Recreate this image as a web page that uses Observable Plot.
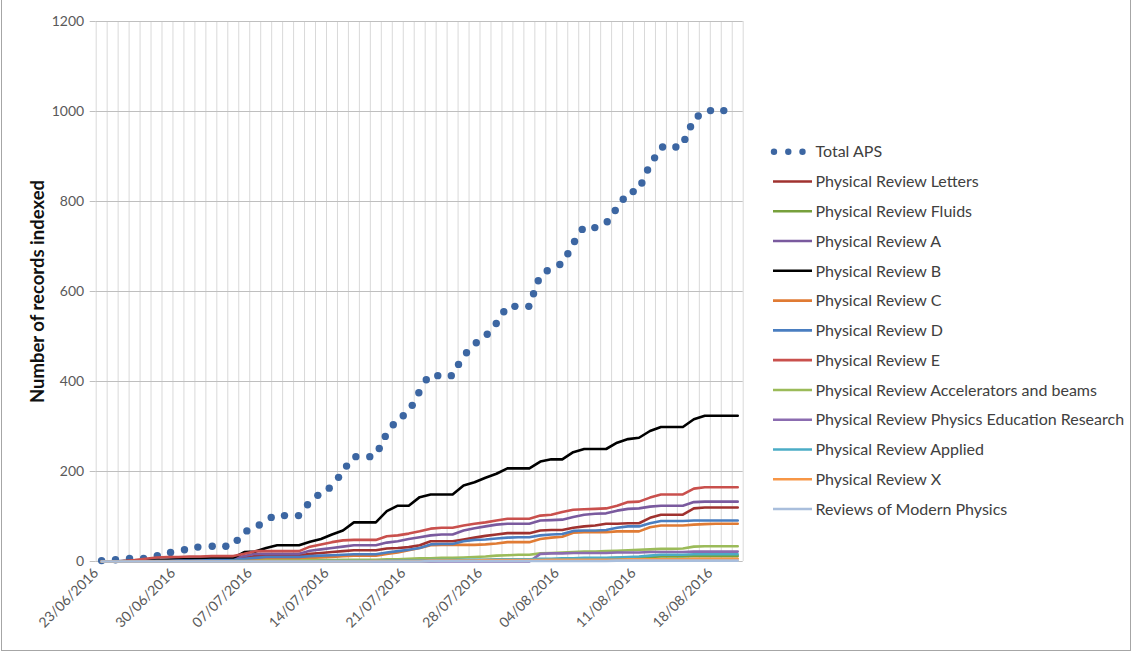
<!DOCTYPE html>
<html>
<head>
<meta charset="utf-8">
<script src="https://cdn.jsdelivr.net/npm/d3@7"></script>
<script src="https://cdn.jsdelivr.net/npm/@observablehq/plot@0.6"></script>
<style>
  body { margin: 0; background: #fff; font-family: Lato, "Open Sans", sans-serif; }
  #wrap { position: relative; width: 1134px; height: 655px; overflow: hidden; }
  #frame { position: absolute; left: 1px; top: -2px; width: 1130px; height: 653px; border: 1px solid #a6a6a6; box-sizing: border-box; pointer-events: none; }
  #legend { position: absolute; left: 0; top: 0; pointer-events: none; }
</style>
</head>
<body>
<div id="wrap">
  <div id="chart"></div>
  <svg id="legend" width="1134" height="655"></svg>
  <div id="frame"></div>
</div>
<script>
// ---------- DATA ----------
const startDay = "2016-06-23";   // first category date
const dayCount = 59;             // daily categories 23/06 .. 20/08
const endDay = "2016-08-21";     // axis end

// Total APS: position in days after 23/06/2016 00:00, and cumulative count
const totalDayOffset = [0.49,1.76,3.04,4.32,5.57,6.78,8.05,9.27,10.58,11.82,12.86,13.74,14.87,15.96,17.17,18.45,19.27,20.21,21.25,22.10,22.83,23.68,24.95,25.81,26.36,27.09,28.00,28.82,29.42,30.10,31.15,32.38,33.04,33.77,34.66,35.66,36.48,37.17,38.18,39.45,39.88,40.31,41.13,42.28,43.01,43.62,44.32,45.47,46.60,47.33,48.06,48.97,49.76,50.28,50.92,51.65,52.86,53.68,54.20,54.90,56.02,57.23];
const totalAPS = [2,4,7,7,13,20,26,32,34,34,47,68,81,98,102,102,126,147,163,187,212,233,233,251,278,304,324,347,375,404,413,413,438,464,486,505,529,555,567,567,595,624,646,660,684,711,738,742,755,780,805,822,841,870,897,921,921,938,966,990,1002,1002];

// Daily cumulative counts per journal (59 days)
const prLetters = [0,0,0,1,1,2,2,3,3,4,4,4,5, 8,12,13,13,13,13, 17,19,21,23,25,25,25, 29,30,32,36,45,45,45, 49,53,57,60,63,63,63, 69,70,70,75,78,80,84, 84,85,85,97,104,104,104, 118,120,120,120,120];
const prFluids = [0,0,0,0,0,0,0,0,0,0,0,0,0,0,0,0,0,0,0,0, 1,1,1,1,1,1,1,1,1,1, 1,2,2,2,3,3,3,4,4,4, 5,5,5,6,6,7,7, 8,8,9,10,11,11,11, 12,12,12,12,12];
const prA = [0,0,1,1,2,3,4,5,5,6,6,7,7, 12,17,17,17,17,17, 24,27,30,33,36,36,36, 42,45,50,54,58,60,60, 69,74,78,82,84,84,84, 91,92,93,99,104,106,107, 113,117,118,122,124,124,124, 132,133,133,133,133];
const prB = [0,0,1,1,2,3,4,5,6,6,7,7,8, 21,22,30,36,36,36, 44,50,60,69,87,87,87, 112,124,124,143,149,149,149, 169,176,186,195,207,207,207, 222,227,227,243,250,250,250, 264,272,275,290,299,299,299, 316,324,324,324,324];
const prC = [0,0,0,0,0,1,1,1,1,2,2,2,2, 3,5,6,6,6,6, 8,9,10,12,13,13,13, 17,20,25,30,36,37,37, 37,37,38,40,43,43,43, 50,53,55,64,65,65,65, 67,67,67,76,80,80,80, 82,83,84,84,84];
const prD = [0,0,0,0,1,1,1,2,2,2,3,3,3, 6,8,10,10,10,10, 12,13,14,15,16,16,16, 20,23,26,30,38,39,39, 45,48,49,51,53,54,54, 58,60,61,68,69,69,70, 75,78,78,85,90,90,90, 91,91,91,91,91];
const prE = [0,0,1,3,6,9,10,10,11,11,12,12,12, 17,23,23,23,23,23, 33,38,43,47,48,48,48, 56,58,62,67,73,75,75, 80,84,87,91,95,95,95, 102,104,110,115,116,117,118, 124,132,133,142,149,149,149, 162,165,165,165,165];
const prAccel = [0,0,0,0,0,0,0,0,0,0,0,0,1,1,1, 2,2,2,2,3,3,3,4,4,4,4, 5,5,6,7,7,8,8, 9,10,11,13,14,15,15, 18,19,20,21,22,22,23, 24,25,26,27,28,28,29, 33,34,34,34,34];
const prPER = [0,0,0,0,0,0,0,0,0,0,0,0,0,0,0,0,0,0,0,0,0,0,0,0,0,0,0,0,0,0,0,0,0,0,0,0,0,0,0,0, 17,18,18,19,19,19,19, 20,20,20,21,21,21,21, 22,22,22,22,22];
const prApplied = [0,0,0,0,0,0,0,0,0,0,0,0,0,0,0,0,0,0,0,0, 1,1,1,1,1,1,2,2,2,2, 3,3,3,4,4,4,5,5,5,5, 6,6,7,7,8,8,8, 9,10,11,13,15,15,15, 16,16,16,16,16];
const prX = [0,0,0,0,0,0,0,0,0,0,0,0,0,0,0,0,0,0,0,0,0,0,0,0,0, 1,1,1,1,1,2,2,2,2,2,3,3,3,3,3, 3,4,4,4,4,4,4, 4,5,5,5,5,5,5, 6,6,6,6,6];
const rmp = [0,0,0,0,0,0,0,0,0,0,0,0,0,0,0,0,0,0,0,0,0,0,0,0,0,0,0,0,0,0, 1,1,1,1,1,1,1,1,1,1,1,1,1,1,1,1,1, 2,2,2,2,2,2,2,2,2,2,2,2];

const seriesNames = ["Physical Review Letters","Physical Review Fluids","Physical Review A","Physical Review B","Physical Review C","Physical Review D","Physical Review E","Physical Review Accelerators and beams","Physical Review Physics Education Research","Physical Review Applied","Physical Review X","Reviews of Modern Physics"];
const seriesValues = [prLetters, prFluids, prA, prB, prC, prD, prE, prAccel, prPER, prApplied, prX, rmp];
const seriesColors = ["#A0322F","#77A03C","#7A5A9E","#000000","#E07B34","#4A7EC0","#C9504D","#9BBB59","#8B6CB0","#4BACC6","#F79646","#A9BEDC"];
const totalName = "Total APS";
const totalColor = "#3C66A2";

const yTicks = [0,200,400,600,800,1000,1200];
const yTitle = "Number of records indexed";

// ---------- BUILD ----------
const start = new Date(startDay + "T00:00:00Z");
const end = new Date(endDay + "T00:00:00Z");
const days = d3.utcDay.range(start, d3.utcDay.offset(start, dayCount));
const halfDay = 12 * 3600 * 1000;

const lineRows = [];
seriesNames.forEach((name, s) => {
  seriesValues[s].forEach((v, i) => lineRows.push({name, date: new Date(+days[i] + halfDay), value: v}));
});
const totalRows = totalAPS.map((v, i) => ({date: new Date(+start + totalDayOffset[i] * 86400000), value: v}));

const gridDays = d3.utcDay.range(start, d3.utcDay.offset(end, 1));
const weekTicks = d3.utcDay.range(start, end, 7);

const chart = Plot.plot({
  width: 1134,
  height: 655,
  marginLeft: 95.7,
  marginRight: 391.3,
  marginTop: 21,
  marginBottom: 94,
  style: {fontFamily: "Lato, 'Open Sans', sans-serif", background: "transparent"},
  x: {type: "utc", domain: [start, end]},
  y: {domain: [0, 1200]},
  color: {domain: seriesNames, range: seriesColors},
  marks: [
    Plot.ruleX(gridDays, {x: d => d, stroke: "#d9d9d9", strokeWidth: 1}),
    Plot.ruleY(yTicks, {y: d => d, stroke: "#bfbfbf", strokeWidth: 1}),
    Plot.axisY({ticks: yTicks, tickFormat: d3.format("d"), tickSize: 6, tickPadding: 6, fontSize: 14, label: null, color: "#595959", stroke: "#bfbfbf"}),
    Plot.axisX({ticks: weekTicks, tickFormat: d3.utcFormat("%d/%m/%Y"), tickRotate: -45, tickSize: 0, tickPadding: 9, fontSize: 14, label: null, color: "#595959"}),
    Plot.text([yTitle], {frameAnchor: "left", textAnchor: "middle", dx: -57.7, rotate: -90, fontSize: 18.5, fontWeight: "bold", fill: "#111"}),
    Plot.dot(totalRows, {x: "date", y: "value", r: 3.7, fill: totalColor, stroke: null}),
    Plot.line(lineRows, {x: "date", y: "value", z: "name", stroke: "name", strokeWidth: 2.6, strokeLinejoin: "round"})
  ]
});
document.getElementById("chart").appendChild(chart);

// ---------- LEGEND ----------
const leg = d3.select("#legend");
const legItems = [totalName, ...seriesNames];
const legColors = [totalColor, ...seriesColors];
const legTop = 151.7, legStep = 29.78;
legItems.forEach((name, i) => {
  const y = legTop + i * legStep;
  if (i === 0) {
    [774, 788.3, 802.5].forEach(cx => leg.append("circle").attr("cx", cx).attr("cy", y).attr("r", 3.2).attr("fill", legColors[i]));
  } else {
    leg.append("line").attr("x1", 773).attr("x2", 812).attr("y1", y).attr("y2", y)
      .attr("stroke", legColors[i]).attr("stroke-width", 2.6);
  }
  leg.append("text").attr("x", 815.5).attr("y", y).attr("dy", "0.36em")
    .attr("font-family", "Lato, 'Open Sans', sans-serif").attr("font-size", 16).attr("fill", "#404040")
    .text(name);
});
</script>
</body>
</html>
